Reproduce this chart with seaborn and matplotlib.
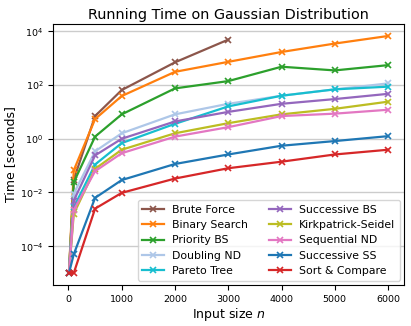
import pandas as pd
import seaborn as sns
import matplotlib.pyplot as plt

# input sizes
n = [10, 100, 500, 1000, 2000, 3000, 4000, 5000, 6000]

# running times in seconds
brute_force = [1e-5, 0.03, 7.0, 65, 700, 4900]
binary_search = [1e-5, 0.067, 5.4, 39, 310, 730, 1700, 3500, 6700]
priority_bs = [1e-5, 0.024, 1.2, 8.1, 75, 140, 480, 350, 550]
doubling_nd = [1e-5, 0.009, 0.34, 1.6, 8.1, 20, 40, 69, 115]
pareto_tree = [1e-5, 0.0028, 0.11, 0.69, 3.6, 16, 40, 69, 87]
successive_bs = [1e-5, 0.005, 0.24, 1.0, 4.4, 10, 20, 30, 47]
kirkpatrick = [1e-5, 0.0016, 0.076, 0.39, 1.6, 3.8, 8.1, 13, 24]
sequential_nd = [1e-5, 0.0022, 0.062, 0.29, 1.2, 2.7, 7.0, 8.6, 12]
successive_ss = [1e-5, 5e-5, 0.0063, 0.029, 0.115, 0.26, 0.55, 0.82, 1.25]
sort_compare = [1e-5, 1e-5, 0.0025, 0.0097, 0.033, 0.08, 0.14, 0.26, 0.39]

series = [
    ("Brute Force", brute_force, "tab:brown"),
    ("Binary Search", binary_search, "tab:orange"),
    ("Priority BS", priority_bs, "tab:green"),
    ("Doubling ND", doubling_nd, "#aec7e8"),
    ("Pareto Tree", pareto_tree, "tab:cyan"),
    ("Successive BS", successive_bs, "tab:purple"),
    ("Kirkpatrick-Seidel", kirkpatrick, "tab:olive"),
    ("Sequential ND", sequential_nd, "tab:pink"),
    ("Successive SS", successive_ss, "tab:blue"),
    ("Sort & Compare", sort_compare, "tab:red"),
]

fig = plt.figure(figsize=(4.11, 3.26), dpi=100)
ax = fig.add_axes([0.129, 0.126, 0.854, 0.8])

for name, vals, col in series:
    df = pd.DataFrame({"n": n[:len(vals)], "t": vals})
    sns.lineplot(data=df, x="n", y="t", ax=ax, color=col, label=name,
                 marker="x", markersize=5, markeredgecolor=col,
                 markeredgewidth=1.2, linewidth=1.6)

ax.set_yscale("log")
ax.set_xticks([0, 1000, 2000, 3000, 4000, 5000, 6000])
ax.grid(axis="y", color="#cccccc", linewidth=1)
ax.set_axisbelow(True)
ax.tick_params(labelsize=6.8)
ax.set_title("Running Time on Gaussian Distribution", fontsize=10.4, pad=4)
ax.set_xlabel("Input size $n$", fontsize=9, labelpad=2)
ax.set_ylabel("Time [seconds]", fontsize=9, labelpad=2)
ax.legend(ncol=2, loc="lower right", fontsize=7.8, labelspacing=0.5,
          handlelength=2.0, columnspacing=1.9, borderaxespad=0.4)

plt.savefig("out.png", dpi=100)
